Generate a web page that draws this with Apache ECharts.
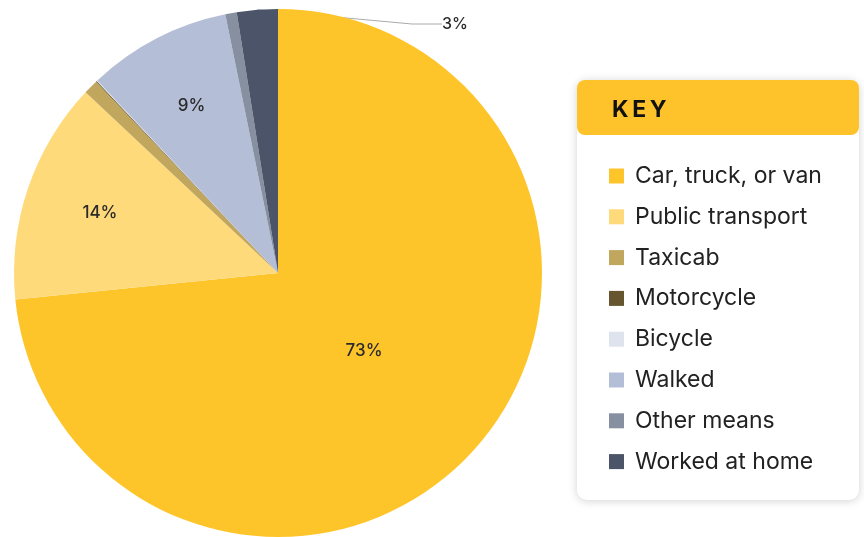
<!DOCTYPE html>
<html>
<head>
<meta charset="utf-8">
<script src="https://cdn.jsdelivr.net/npm/echarts@6/dist/echarts.min.js"></script>
<style>
  html, body { margin: 0; padding: 0; background: #fff; }
  #chart { width: 864px; height: 537px; }
</style>
</head>
<body>
<div id="chart"></div>
<script>
const categories = ["Car, truck, or van", "Public transport", "Taxicab", "Motorcycle", "Bicycle", "Walked", "Other means", "Worked at home"];
const shares = [73.4, 13.6, 0.9, 0.05, 0.05, 8.8, 0.7, 2.5];
const colors = ["#FEC52B", "#FFDA7B", "#C1A65E", "#66552F", "#DFE3EE", "#B4BED6", "#8690A0", "#4B5468"];

const chart = echarts.init(document.getElementById("chart"));

const font = "Inter, 'Noto Sans', sans-serif";
const pieCenter = [278, 273];
const pieRadius = 264;

const labelStyle = {
  color: "#2a2a2a",
  fontSize: 17,
  fontWeight: 500,
  fontFamily: font,
};

const pieData = categories.map((name, i) => ({
  name: name,
  value: shares[i],
  itemStyle: { color: colors[i] },
}));

// transparent rings only used to place the inside labels at different depths
function labelRing(radius, keep) {
  return {
    type: "pie",
    silent: true,
    center: pieCenter,
    radius: [0, radius],
    startAngle: 90,
    itemStyle: { color: "transparent" },
    emphasis: { disabled: true },
    labelLine: { show: false },
    data: categories.map((name, i) => ({
      name: name,
      value: shares[i],
      label: {
        show: keep(shares[i]),
        position: "inside",
        formatter: Math.round(shares[i]) + "%",
        ...labelStyle,
      },
    })),
  };
}

const option = {
  animation: false,
  legend: {
    orient: "vertical",
    left: 604,
    top: 159,
    icon: "rect",
    itemWidth: 15,
    itemHeight: 15,
    itemGap: 16.8,
    selectedMode: false,
    data: categories,
    textStyle: {
      color: "#222",
      fontSize: 23,
      lineHeight: 24,
      fontFamily: font,
      padding: [0, 0, 0, 6],
    },
  },
  graphic: [
    {
      type: "rect",
      z: -1,
      shape: { x: 577, y: 80, width: 282, height: 420, r: 10 },
      style: { fill: "#fff", shadowBlur: 10, shadowColor: "rgba(0,0,0,0.18)", shadowOffsetY: 1 },
    },
    {
      type: "rect",
      z: 0,
      shape: { x: 577, y: 80, width: 282, height: 55, r: 8 },
      style: { fill: "#FEC32B" },
    },
    {
      type: "text",
      z: 1,
      left: 612,
      top: 99,
      style: {
        text: "K\u2009E\u2009Y",
        fill: "#111",
        font: "bold 23px " + font,
      },
    },
  ],
  series: [
    {
      type: "pie",
      center: pieCenter,
      radius: [0, pieRadius],
      startAngle: 90,
      emphasis: { disabled: true },
      data: pieData.map((d) => ({
        ...d,
        label: {
          show: d.value >= 2 && d.value < 5,
          position: "outside",
          formatter: Math.round(d.value) + "%",
          ...labelStyle,
          fontSize: 16,
        },
        labelLine: { show: d.value >= 2 && d.value < 5, lineStyle: { color: "#aaa", width: 1 } },
      })),
      labelLayout: function (params) {
        if (params.dataIndex === categories.length - 1) {
          return { x: 442, y: 24, align: "left", verticalAlign: "middle" };
        }
      },
    },
    labelRing(226, (v) => v > 50),
    labelRing(370, (v) => v >= 5 && v <= 50),
  ],
};

chart.setOption(option);
</script>
</body>
</html>
